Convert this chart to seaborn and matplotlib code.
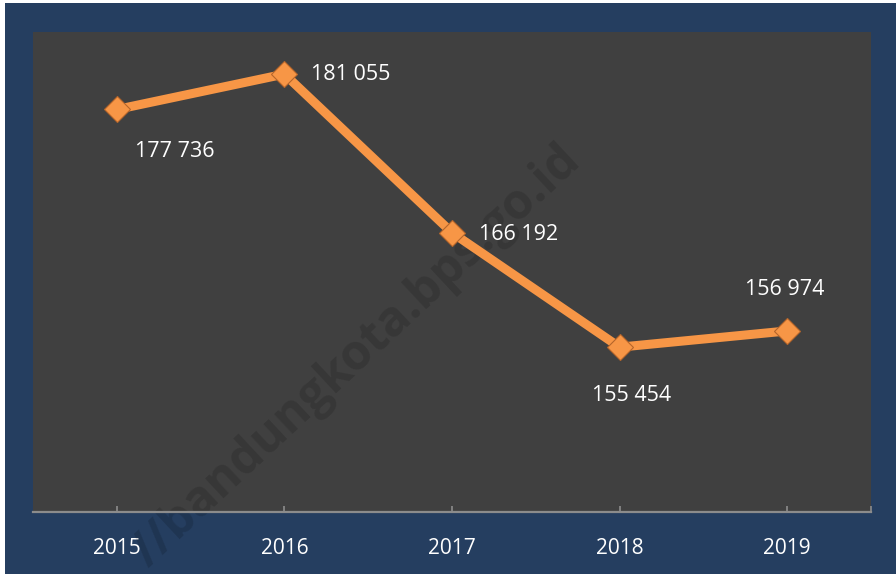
import matplotlib
matplotlib.use("Agg")
import matplotlib.pyplot as plt
from matplotlib.patches import Rectangle
import seaborn as sns
import pandas as pd
import numpy as np

years = ["2015", "2016", "2017", "2018", "2019"]
values = [177736, 181055, 166192, 155454, 156974]
labels = ["177 736", "181 055", "166 192", "155 454", "156 974"]

sns.set_theme(style="white")
plt.rcParams["font.family"] = ["Open Sans", "DejaVu Sans"]

df = pd.DataFrame({"pos": np.arange(len(years)), "value": values})

fig = plt.figure(figsize=(8.96, 5.74), dpi=100)
fig.patch.set_facecolor("white")
fig.patches.append(Rectangle((5 / 896, 0), 1 - 5 / 896, 571 / 574,
                             transform=fig.transFigure, facecolor="#253e60",
                             edgecolor="none", zorder=-10))

ax = fig.add_axes([33 / 896, 62 / 574, 838 / 896, 480 / 574])
ax.set_facecolor("#404040")

sns.lineplot(data=df, x="pos", y="value", ax=ax, color="#f79646", linewidth=6.5,
             marker="D", markersize=13, markerfacecolor="#f79646",
             markeredgecolor="#b5652a", markeredgewidth=0.8, zorder=5)

ax.set_xlim(-0.5, 4.5)
ax.set_ylim(140000, 185000)
ax.set_xticks(df["pos"])
ax.set_xticklabels(years)
ax.set_xticks([4.5], minor=True)
ax.set_yticks([])
ax.set_xlabel("")
ax.set_ylabel("")
for s in ["top", "left", "right"]:
    ax.spines[s].set_visible(False)
ax.spines["bottom"].set_color("#8c8c8c")
ax.spines["bottom"].set_linewidth(1.6)
ax.tick_params(axis="x", which="both", direction="in", length=4.5, width=1.2,
               color="#8c8c8c", labelcolor="white", labelsize=15, pad=19,
               bottom=True)

offsets = [(42, -30, "center"), (19.5, 0, "left"), (19.5, -1.5, "left"),
           (8.6, -35, "center"), (-1.5, 29.5, "center")]
for p, v, lab, (dx, dy, ha) in zip(df["pos"], values, labels, offsets):
    ax.annotate(lab, xy=(p, v), xytext=(dx, dy), textcoords="offset points",
                ha=ha, va="center", color="white", fontsize=15.5, zorder=6)

# watermark
ax.text(357 / 896 * 896 / 838 - 33 / 838, (574 - 357 - 62) / 480,
        "//bandungkota.bps.go.id", transform=ax.transAxes,
        rotation=43, rotation_mode="anchor", ha="center", va="center",
        fontsize=35, fontweight="bold", color="black", alpha=0.14,
        clip_on=False, zorder=1)

fig.savefig("out.png", dpi=100, facecolor=fig.get_facecolor())
